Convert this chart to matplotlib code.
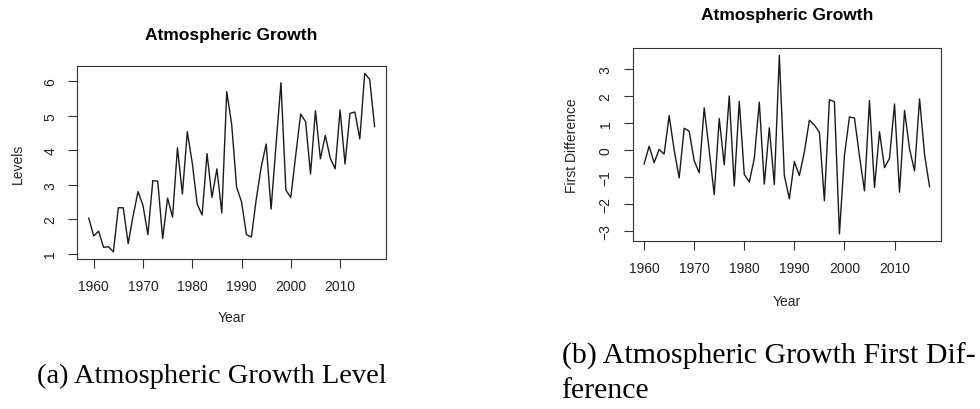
import matplotlib.pyplot as plt

plt.rcParams["font.family"] = ["Liberation Sans", "DejaVu Sans"]

# Atmospheric CO2 growth, GtC per year
years = list(range(1959, 2018))
levels = [2.03, 1.51, 1.65, 1.18, 1.20, 1.05, 2.33, 2.33, 1.29, 2.10,
          2.80, 2.40, 1.55, 3.12, 3.10, 1.44, 2.61, 2.06, 4.07, 2.73,
          4.54, 3.63, 2.44, 2.12, 3.90, 2.63, 3.46, 2.18, 5.70, 4.75,
          2.93, 2.50, 1.55, 1.48, 2.59, 3.52, 4.18, 2.29, 4.16, 5.96,
          2.84, 2.63, 3.86, 5.05, 4.83, 3.31, 5.15, 3.75, 4.43, 3.77,
          3.46, 5.17, 3.60, 5.07, 5.11, 4.33, 6.23, 6.06, 4.69]

# year-on-year changes, 1960 onwards
diff_years = list(range(1960, 2018))
first_diff = [-0.52, 0.14, -0.47, 0.02, -0.15, 1.28, 0.00, -1.04, 0.81, 0.70,
              -0.40, -0.85, 1.57, -0.02, -1.66, 1.17, -0.55, 2.01, -1.34, 1.81,
              -0.91, -1.19, -0.32, 1.78, -1.27, 0.83, -1.28, 3.52, -0.95, -1.82,
              -0.43, -0.95, -0.07, 1.11, 0.93, 0.66, -1.89, 1.87, 1.80, -3.12,
              -0.21, 1.23, 1.19, -0.22, -1.52, 1.84, -1.40, 0.68, -0.66, -0.31,
              1.71, -1.57, 1.47, 0.04, -0.78, 1.90, -0.17, -1.37]

year_ticks = [1960, 1970, 1980, 1990, 2000, 2010]
level_ticks = [1, 2, 3, 4, 5, 6]
diff_ticks = [-3, -2, -1, 0, 1, 2, 3]


def r_style(ax, x, y, yticks, ylabel, title, title_pad, ylab_x, xlab_y):
    ax.plot(x, y, color="#1a1a1a", lw=1.0)
    # R-like 4% padding around the data range
    xr = max(x) - min(x)
    yr = max(y) - min(y)
    ax.set_xlim(min(x) - 0.04 * xr, max(x) + 0.04 * xr)
    ax.set_ylim(min(y) - 0.04 * yr, max(y) + 0.04 * yr)
    ax.set_xticks(year_ticks)
    ax.set_yticks(yticks)
    for s in ax.spines.values():
        s.set_color("#333333")
        s.set_linewidth(0.8)
    ax.tick_params(length=6.5, width=0.8, color="#333333", labelsize=10,
                   pad=8, labelcolor="#222222")
    ax.tick_params(axis="y", labelrotation=90)
    for lab in ax.get_yticklabels():
        lab.set_va("center")
    ax.set_xlabel("Year", fontsize=10, color="#222222")
    ax.set_ylabel(ylabel, fontsize=10, color="#222222")
    ax.xaxis.set_label_coords(0.5, xlab_y)
    ax.xaxis.label.set_va("center")
    ax.yaxis.set_label_coords(ylab_x, 0.5)
    ax.yaxis.label.set_va("center")
    ax.set_title(title, fontsize=12.5, fontweight="bold", pad=title_pad)


fig = plt.figure(figsize=(9.8, 4.1), dpi=100)

ax1 = fig.add_axes([0.0789, 0.3659, 0.315, 0.470])
r_style(ax1, years, levels, level_ticks, "Levels", "Atmospheric Growth",
        19.7, -0.191, -0.301)

ax2 = fig.add_axes([0.6456, 0.4098, 0.3146, 0.470])
r_style(ax2, diff_years, first_diff, diff_ticks, "First Difference",
        "Atmospheric Growth", 21.1, -0.197, -0.311)

serif = ["Liberation Serif", "DejaVu Serif"]
fig.text(0.0374, 0.065, "(a) Atmospheric Growth Level", family=serif,
         fontsize=20.4, va="baseline", ha="left")
fig.text(0.573, 0.114, "(b) Atmospheric Growth First Dif-", family=serif,
         fontsize=21.5, va="baseline", ha="left")
fig.text(0.573, 0.0285, "ference", family=serif,
         fontsize=21.5, va="baseline", ha="left")

fig.savefig("out.png", dpi=100)
